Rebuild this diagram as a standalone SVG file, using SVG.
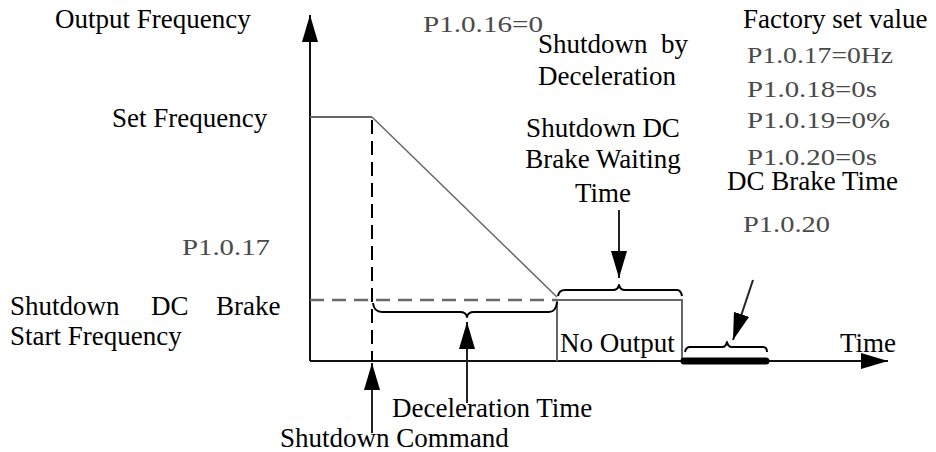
<svg xmlns="http://www.w3.org/2000/svg" width="936" height="452" viewBox="0 0 936 452">
<style>
text{font-family:"Liberation Serif","Times New Roman",serif;font-size:27px;fill:#000}
.p{font-size:24px;fill:#4a4a4a}
.ax{stroke:#111;stroke-width:2;fill:none}
.g{stroke:#666;stroke-width:2;fill:none}
.br{stroke:#000;stroke-width:2;fill:none;stroke-linejoin:round}
.ar{stroke:#222;stroke-width:2;fill:none}
</style>
<defs>
<marker id="ah" viewBox="0 0 27 16" refX="27" refY="8" markerWidth="27" markerHeight="16" markerUnits="userSpaceOnUse" orient="auto"><path d="M0,0 L27,8 L0,16 z" fill="#000"/></marker>
</defs>
<rect width="936" height="452" fill="#fff"/>
<g id="axes">
<line class="ax" x1="310" y1="361" x2="310" y2="15" marker-end="url(#ah)"/>
<line class="ax" x1="310" y1="361" x2="888" y2="361" marker-end="url(#ah)"/>
</g>
<g id="curve">
<polyline class="g" points="310,117 372,117"/>
<line x1="372" y1="117" x2="557" y2="297" stroke="#666" stroke-width="1.5"/>
<line x1="372" y1="120" x2="372" y2="361" stroke="#000" stroke-width="2" stroke-dasharray="14 7"/>
<line x1="310" y1="300" x2="557" y2="300" stroke="#6a6a6a" stroke-width="2.5" stroke-dasharray="14 8"/>
<polyline class="g" points="557,361 557,300 682,300 682,361"/>
<line x1="684" y1="361" x2="766" y2="361" stroke="#000" stroke-width="7" stroke-linecap="round"/>
</g>
<g id="braces">
<path class="br" d="M373,303 Q374,312 382,312 L460,312 Q466,312 467,317 Q468,312 474,312 L549,312 Q556,312 557,302"/>
<path class="br" d="M558,296 Q559,290 565,290 L613,290 Q618,290 619,285 Q620,290 625,290 L677,290 Q681,290 682,296"/>
<path class="br" d="M685,352 Q686,347 690,347 L722,347 Q726,347 727,342 Q728,347 732,347 L763,347 Q767,347 767,352"/>
</g>
<g id="connectors">
<line class="ar" x1="467" y1="403" x2="467" y2="322" marker-end="url(#ah)"/>
<line class="ar" x1="372" y1="433" x2="372" y2="363" marker-end="url(#ah)"/>
<line class="ar" x1="619" y1="210" x2="619" y2="278" marker-end="url(#ah)"/>
<line class="ar" x1="753" y1="280" x2="733" y2="340" marker-end="url(#ah)"/>
</g>
<g id="label-output-frequency"><text x="55" y="28">Output Frequency</text></g>
<g id="label-p1016"><text class="p" x="423" y="32" textLength="120" lengthAdjust="spacingAndGlyphs">P1.0.16=0</text></g>
<g id="label-shutdown-decel"><text x="538" y="53" xml:space="preserve">Shutdown  by</text><text x="538" y="85">Deceleration</text></g>
<g id="label-factory"><text x="743" y="28">Factory set value</text>
<text class="p" x="747" y="63" textLength="146" lengthAdjust="spacingAndGlyphs">P1.0.17=0Hz</text>
<text class="p" x="747" y="97" textLength="130" lengthAdjust="spacingAndGlyphs">P1.0.18=0s</text>
<text class="p" x="747" y="128" textLength="143" lengthAdjust="spacingAndGlyphs">P1.0.19=0%</text>
<text class="p" x="747" y="165" textLength="130" lengthAdjust="spacingAndGlyphs">P1.0.20=0s</text></g>
<g id="label-set-frequency"><text x="112" y="127">Set Frequency</text></g>
<g id="label-waiting"><text x="603" y="137" text-anchor="middle">Shutdown DC</text><text x="603" y="168" text-anchor="middle">Brake Waiting</text><text x="603" y="202" text-anchor="middle">Time</text></g>
<g id="label-dc-brake-time"><text x="727" y="190">DC Brake Time</text><text class="p" x="743" y="232" textLength="87" lengthAdjust="spacingAndGlyphs">P1.0.20</text></g>
<g id="label-p1017"><text class="p" x="182" y="255" textLength="88" lengthAdjust="spacingAndGlyphs">P1.0.17</text></g>
<g id="label-start-frequency"><text x="10" y="315">Shutdown</text><text x="151" y="315">DC</text><text x="216" y="315">Brake</text><text x="10" y="345">Start Frequency</text></g>
<g id="label-no-output"><text x="560" y="352">No Output</text></g>
<g id="label-time"><text x="840" y="352">Time</text></g>
<g id="label-decel-time"><text x="392" y="417">Deceleration Time</text></g>
<g id="label-shutdown-command"><text x="280" y="447">Shutdown Command</text></g>
</svg>
